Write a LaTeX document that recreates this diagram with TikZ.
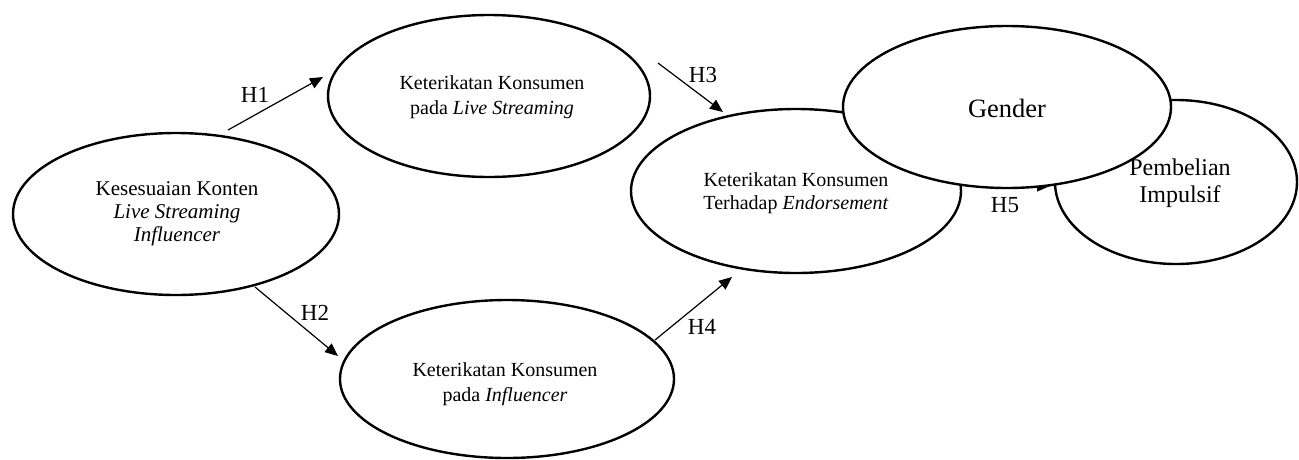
\documentclass[tikz,border=0pt]{standalone}
\usepackage{fontspec}
\setmainfont{Liberation Serif}
\usetikzlibrary{shapes.geometric,arrows.meta}
\begin{document}
\begin{tikzpicture}[x=1pt,y=-1pt,
  ell/.style={draw,ellipse,line width=2.4pt,fill=white,inner sep=0pt},
  txt/.style={align=center,inner sep=0pt,font=\fontsize{20}{25}\selectfont},
  arr/.style={-{Triangle[length=13pt,width=11pt]},line width=1.2pt},
  hlab/.style={inner sep=0pt,font=\fontsize{23}{27}\selectfont}]
\useasboundingbox (0,0) rectangle (1299,459);
% ellipses
\node[ell,minimum width=326pt,minimum height=162pt] (E1) at (176,214) {};
\node[ell,minimum width=322pt,minimum height=162pt] (E2) at (489,96) {};
\node[ell,minimum width=334pt,minimum height=158pt] (E6) at (507,379) {};
\node[ell,minimum width=330pt,minimum height=164pt] (E3) at (796,191) {};
\node[ell,minimum width=242pt,minimum height=164pt] (E5) at (1176,182) {};
% texts
\node[txt,font=\fontsize{21}{23}\selectfont] (T1) at (177,214) {Kesesuaian Konten\\\textit{Live Streaming}\\\textit{Influencer}};
\node[txt] (T2) at (492,97) {Keterikatan Konsumen\\pada \textit{Live Streaming}};
\node[txt] (T6) at (505,384) {Keterikatan Konsumen\\pada \textit{Influencer}};
\node[txt,font=\fontsize{20}{23}\selectfont] (T3) at (796,193) {Keterikatan Konsumen\\Terhadap \textit{Endorsement}};
\node[txt,font=\fontsize{24}{27}\selectfont] (T5) at (1180,183) {Pembelian\\Impulsif};
% arrow end points
\coordinate (h1a) at (228,130); \coordinate (h1b) at (323,77);
\coordinate (h2a) at (255,287); \coordinate (h2b) at (338,356);
\coordinate (h3a) at (658,63);  \coordinate (h3b) at (723,112);
\coordinate (h4a) at (655,340); \coordinate (h4b) at (732,277);
\coordinate (h5a) at (1000,186); \coordinate (h5b) at (1050,186);
\draw[arr] (h1a) -- (h1b);
\draw[arr] (h2a) -- (h2b);
\draw[arr] (h3a) -- (h3b);
\draw[arr] (h4a) -- (h4b);
\draw[arr] (h5a) -- (h5b);
% labels
\node[hlab] (L1) at (255,95) {H1};
\node[hlab] (L2) at (315,313) {H2};
\node[hlab] (L3) at (703,75) {H3};
\node[hlab] (L4) at (702,327) {H4};
\node[hlab] (L5) at (1005,205) {H5};
% gender on top
\node[ell,minimum width=328pt,minimum height=162pt] (E4) at (1007,107) {};
\node[txt,font=\fontsize{26.5}{30}\selectfont] (T4) at (1007,108) {Gender};
\end{tikzpicture}
\end{document}
